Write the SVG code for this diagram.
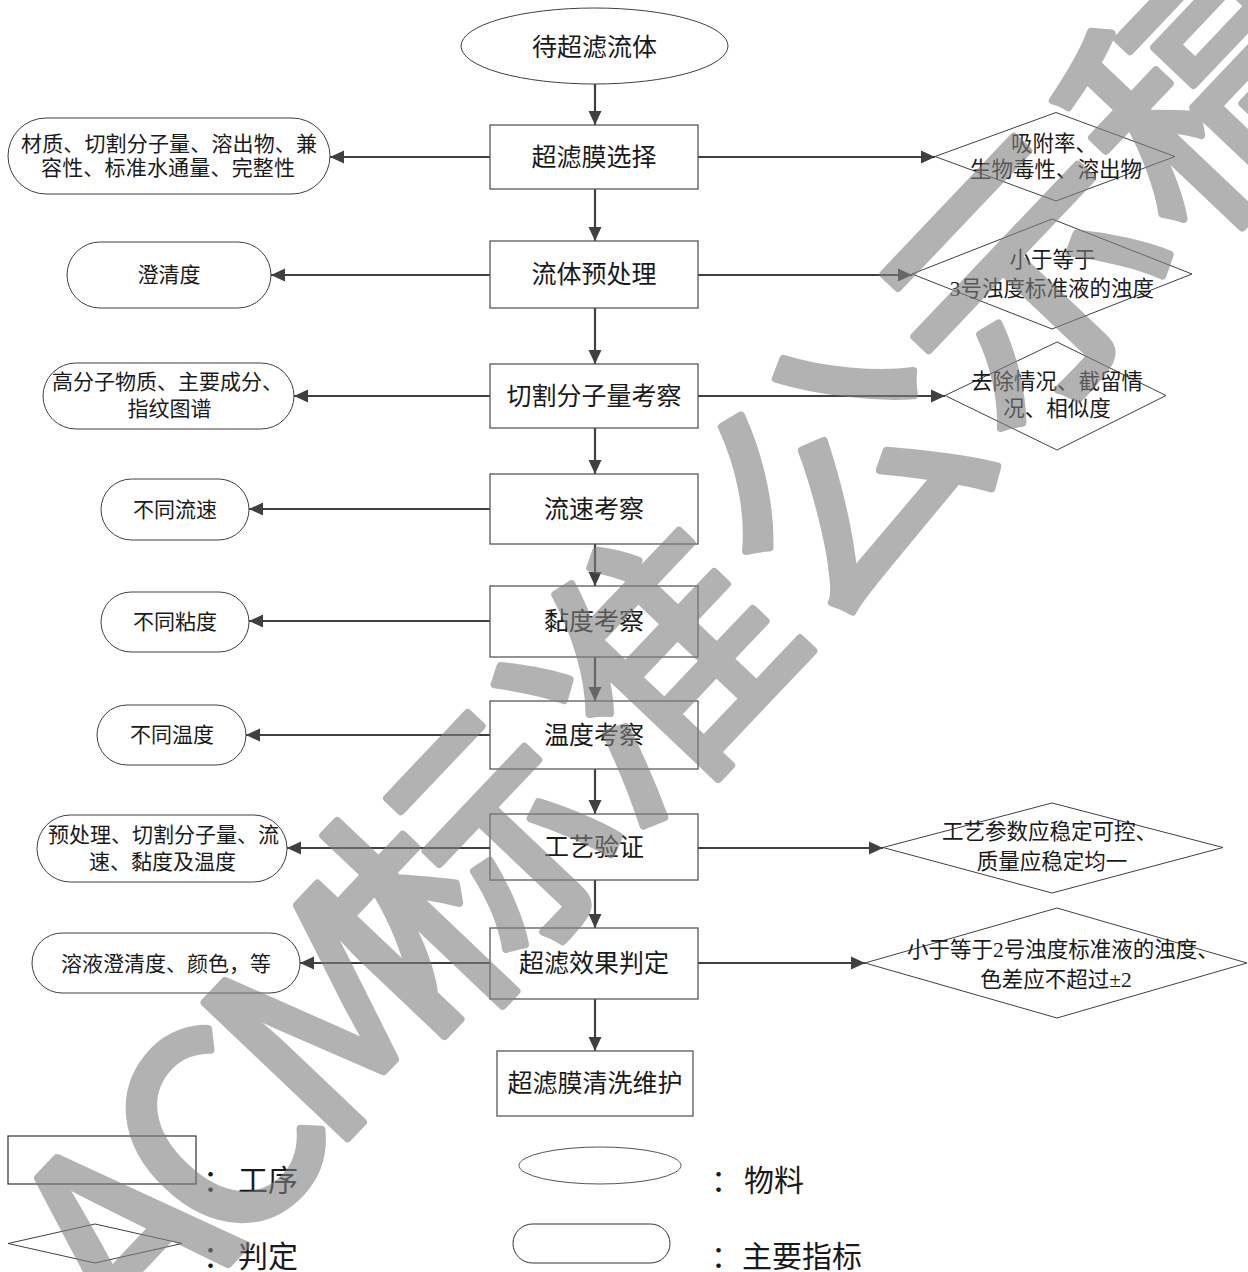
<svg xmlns="http://www.w3.org/2000/svg" width="1248" height="1272" viewBox="0 0 1248 1272">
<defs>
<style>
.t{font-family:"Liberation Serif","Noto Sans CJK SC",serif;fill:#1a1a1a}
.b{font-size:25px;text-anchor:middle}
.s{font-size:21px}
.d{font-size:21.5px}
.m{text-anchor:middle}
.box{fill:#fff;stroke:#595959;stroke-width:1.3}
.pill{fill:#fff;stroke:#404040;stroke-width:1}
.dia{fill:#fff;stroke:#404040;stroke-width:1}
.c line{stroke:#404040;stroke-width:2.2;marker-end:url(#ah)}
.lg{font-size:30px}
.wm{font-family:"Noto Sans CJK SC",sans-serif;font-weight:400;font-size:269px;fill:#808080;stroke:#808080;stroke-width:8;stroke-linejoin:round;text-anchor:middle}
</style>
<marker id="ah" markerWidth="15" markerHeight="14" refX="14" refY="7" orient="auto" markerUnits="userSpaceOnUse">
<path d="M0,0.5 L14,7 L0,13.5 z" fill="#404040"/>
</marker>
</defs>
<rect width="1248" height="1272" fill="#fff"/>

<g id="connectors" class="c">
<line x1="595" y1="84" x2="595" y2="125"/>
<line x1="595" y1="189" x2="595" y2="241"/>
<line x1="595" y1="308" x2="595" y2="364"/>
<line x1="595" y1="428" x2="595" y2="474"/>
<line x1="595" y1="544" x2="595" y2="586"/>
<line x1="595" y1="657" x2="595" y2="701"/>
<line x1="595" y1="769" x2="595" y2="814"/>
<line x1="595" y1="880" x2="595" y2="928"/>
<line x1="595" y1="999" x2="595" y2="1051"/>
<line x1="490" y1="157" x2="330" y2="157"/>
<line x1="490" y1="275" x2="271" y2="275"/>
<line x1="490" y1="396" x2="294" y2="396"/>
<line x1="490" y1="509" x2="249" y2="509"/>
<line x1="490" y1="621" x2="249" y2="621"/>
<line x1="490" y1="735" x2="246" y2="735"/>
<line x1="490" y1="848" x2="287" y2="848"/>
<line x1="490" y1="963" x2="300" y2="963"/>
<line x1="698" y1="157" x2="935" y2="157"/>
<line x1="698" y1="275" x2="912" y2="275"/>
<line x1="698" y1="396" x2="945" y2="396"/>
<line x1="698" y1="848" x2="883" y2="848"/>
<line x1="698" y1="963" x2="865" y2="963"/>
</g>

<g id="start">
<ellipse cx="594.5" cy="46" rx="133.5" ry="38" class="pill"/>
<text class="t b" x="594.5" y="56">待超滤流体</text>
</g>

<g id="p1"><rect x="490" y="125" width="208" height="64" class="box"/><text class="t b" x="594" y="166">超滤膜选择</text></g>
<g id="p2"><rect x="490" y="241" width="208" height="67" class="box"/><text class="t b" x="594" y="283">流体预处理</text></g>
<g id="p3"><rect x="490" y="364" width="208" height="64" class="box"/><text class="t b" x="594" y="405">切割分子量考察</text></g>
<g id="p4"><rect x="490" y="474" width="208" height="70" class="box"/><text class="t b" x="594" y="518">流速考察</text></g>
<g id="p5"><rect x="490" y="586" width="208" height="71" class="box"/><text class="t b" x="594" y="630">黏度考察</text></g>
<g id="p6"><rect x="490" y="701" width="208" height="68" class="box"/><text class="t b" x="594" y="744">温度考察</text></g>
<g id="p7"><rect x="490" y="814" width="208" height="66" class="box"/><text class="t b" x="594" y="856">工艺验证</text></g>
<g id="p8"><rect x="490" y="928" width="208" height="71" class="box"/><text class="t b" x="594" y="972">超滤效果判定</text></g>
<g id="p9"><rect x="497" y="1051" width="196" height="65" class="box"/><text class="t b" x="595" y="1092">超滤膜清洗维护</text></g>

<g id="i1"><rect x="8" y="118" width="322" height="76" rx="38" class="pill"/>
<text class="t s m" x="169" y="151" textLength="296" lengthAdjust="spacing">材质、切割分子量、溶出物、兼</text>
<text class="t s m" x="168" y="175" textLength="254" lengthAdjust="spacing">容性、标准水通量、完整性</text></g>
<g id="i2"><rect x="67" y="242" width="204" height="66" rx="33" class="pill"/><text class="t s m" x="169" y="282">澄清度</text></g>
<g id="i3"><rect x="43" y="363" width="251" height="66" rx="33" class="pill"/>
<text class="t s" x="52" y="389">高分子物质、主要成分、</text>
<text class="t s m" x="169.5" y="416">指纹图谱</text></g>
<g id="i4"><rect x="101" y="479" width="148" height="61" rx="30.5" class="pill"/><text class="t s m" x="175" y="517">不同流速</text></g>
<g id="i5"><rect x="101" y="592" width="148" height="60" rx="30" class="pill"/><text class="t s m" x="175" y="629">不同粘度</text></g>
<g id="i6"><rect x="97" y="705" width="149" height="60" rx="30" class="pill"/><text class="t s m" x="172" y="742">不同温度</text></g>
<g id="i7"><rect x="37" y="815" width="250" height="67" rx="33.5" class="pill"/>
<text class="t s" x="48" y="842">预处理、切割分子量、流</text>
<text class="t s" x="89" y="869">速、黏度及温度</text></g>
<g id="i8"><rect x="32" y="933" width="268" height="60" rx="30" class="pill"/><text class="t s" x="61" y="971">溶液澄清度、颜色，等</text></g>

<g id="j1"><polygon points="935,156.5 1056,112.5 1175,156.5 1056,201" class="dia"/>
<text class="t d" x="1011" y="151">吸附率、</text>
<text class="t d m" x="1056" y="177">生物毒性、溶出物</text></g>
<g id="j2"><polygon points="912,274 1052,219 1192,274 1052,329" class="dia"/>
<text class="t d m" x="1052.5" y="267">小于等于</text>
<text class="t d m" x="1052" y="296">3号浊度标准液的浊度</text></g>
<g id="j3"><polygon points="945,395.5 1057,342 1166,395.5 1057,450" class="dia"/>
<text class="t d m" x="1057" y="389">去除情况、截留情</text>
<text class="t d m" x="1057" y="416">况、相似度</text></g>
<g id="j4"><polygon points="883,847.5 1052,803 1223,847.5 1052,893" class="dia"/>
<text class="t d" x="942" y="839">工艺参数应稳定可控、</text>
<text class="t d m" x="1052" y="869">质量应稳定均一</text></g>
<g id="j5"><polygon points="865,963 1057,908 1247,963 1057,1018" class="dia"/>
<text class="t d" x="907" y="957">小于等于2号浊度标准液的浊度、</text>
<text class="t d m" x="1056" y="987">色差应不超过±2</text></g>

<g id="legend">
<rect x="8" y="1136" width="188" height="48" fill="none" stroke="#333" stroke-width="1.2"/>
<text class="t lg" y="1191"><tspan x="203">：</tspan><tspan x="238">工序</tspan></text>
<ellipse cx="600" cy="1165.5" rx="81" ry="18.5" fill="none" stroke="#555" stroke-width="1"/>
<text class="t lg" y="1191"><tspan x="711">：</tspan><tspan x="744">物料</tspan></text>
<polygon points="8,1243.5 95,1224 182,1243.5 95,1263" fill="none" stroke="#404040" stroke-width="1"/>
<text class="t lg" y="1267"><tspan x="203">：</tspan><tspan x="238">判定</tspan></text>
<rect x="513" y="1224" width="157" height="39" rx="19.5" fill="none" stroke="#333" stroke-width="1"/>
<text class="t lg" y="1267"><tspan x="711">：</tspan><tspan x="742">主要指标</tspan></text>
</g>

<g id="watermark" opacity="0.6" transform="translate(655,669) rotate(-46.5)">
<text class="wm" x="-780 -640 -470 -269 0 269 538 807" y="100">ACM标准公示稿</text>
</g>
</svg>
